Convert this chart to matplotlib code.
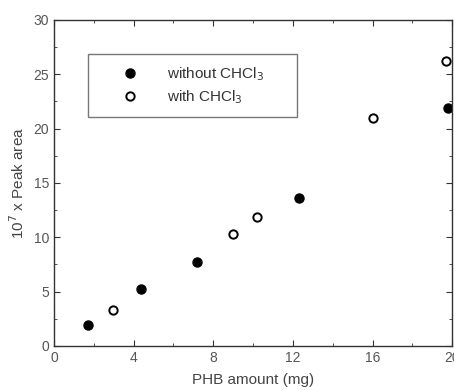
import matplotlib
matplotlib.use("Agg")
import matplotlib.pyplot as plt
from matplotlib.ticker import MultipleLocator

plt.rcParams['font.family'] = ['Liberation Sans', 'DejaVu Sans']

x_without = [1.7, 4.35, 7.2, 12.3, 19.8]
y_without = [1.9, 5.25, 7.7, 13.6, 21.9]
x_with = [2.95, 9.0, 10.2, 16.0, 19.7]
y_with = [3.35, 10.3, 11.9, 21.0, 26.2]

xticks = [0, 4, 8, 12, 16, 20]
yticks = [0, 5, 10, 15, 20, 25, 30]

fig = plt.figure(figsize=(4.54, 3.9), dpi=100)
ax = fig.add_axes([0.119, 0.113, 0.877, 0.836])

ax.plot(x_without, y_without, 'o', color='black', markersize=6.5, linestyle='none',
        label='without CHCl$_3$')
ax.plot(x_with, y_with, 'o', markerfacecolor='white', markeredgecolor='black',
        markeredgewidth=1.4, markersize=6, linestyle='none', label='with CHCl$_3$')

ax.set_xlim(0, 20)
ax.set_ylim(0, 30)
ax.set_xticks(xticks)
ax.set_yticks(yticks)
ax.xaxis.set_minor_locator(MultipleLocator(2))
ax.yaxis.set_minor_locator(MultipleLocator(2.5))
ax.tick_params(which='both', direction='in', top=True, right=True, colors='#333333',
               labelcolor='#555555', labelsize=10)
ax.tick_params(which='major', length=4)
ax.tick_params(which='minor', length=2)
for s in ax.spines.values():
    s.set_color('#333333')
    s.set_linewidth(1.0)

ax.set_xlabel('PHB amount (mg)', fontsize=11, color='#444444', labelpad=6)
ax.set_ylabel('10$^7$ x Peak area', fontsize=11, color='#444444', labelpad=5)

leg = ax.legend(loc='upper left', bbox_to_anchor=(0.085, 0.70, 0.525, 0.196),
                mode='expand', fontsize=11, frameon=True, fancybox=False,
                edgecolor='#555555', borderpad=0.75, handletextpad=0.45,
                labelspacing=0.35, handlelength=4.0, borderaxespad=0)
for t in leg.get_texts():
    t.set_color('#333333')
leg.get_frame().set_linewidth(1.0)

fig.savefig('out.png', dpi=100)
